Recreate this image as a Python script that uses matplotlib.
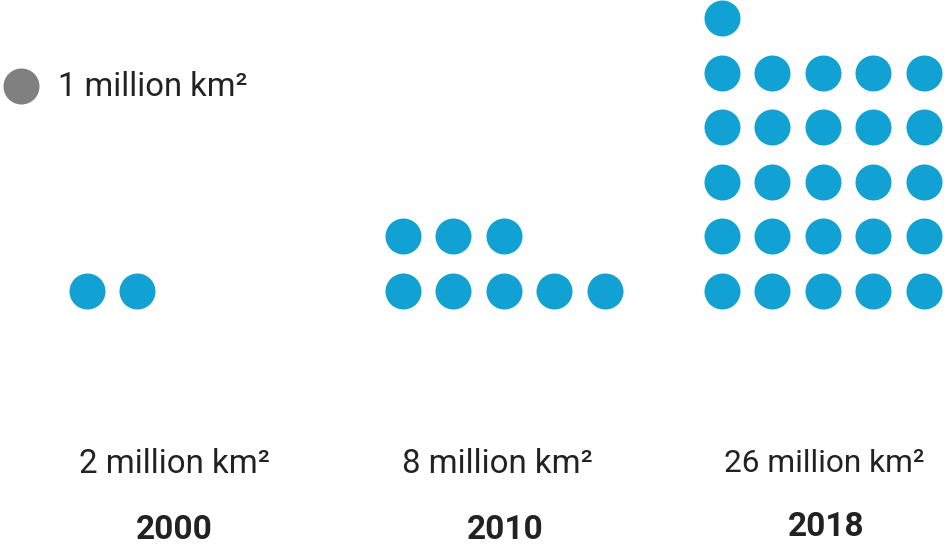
import numpy as np
import matplotlib
matplotlib.use("Agg")
import matplotlib.pyplot as plt

plt.rcParams['font.family'] = ['Roboto', 'DejaVu Sans']

# forest area per year, one dot = 1 million km²
years = ["2000", "2010", "2018"]
values = [2, 8, 26]
labels = ["2 million km²", "8 million km²", "26 million km²"]

blue = "#12a1d3"
grey = "#808080"
text_c = "#222222"

W, H = 945, 547
fig = plt.figure(figsize=(W / 100, H / 100), dpi=100)
ax = fig.add_axes([0, 0, 1, 1])
ax.set_xlim(0, W)
ax.set_ylim(H, 0)
ax.axis("off")

# grid layout (pixels)
group_x0 = [87, 403, 722]
base_y = 291
dx, dy = 50.4, 54.6
ncols = 5
dot_s = (36 * 0.72) ** 2

for x0, v in zip(group_x0, values):
    idx = np.arange(v)
    xs = x0 + (idx % ncols) * dx
    ys = base_y - (idx // ncols) * dy
    ax.scatter(xs, ys, s=dot_s, color=blue, linewidths=0)

label_x = [174, 497, 824]
label_fs = [23.8, 23.8, 22.8]
year_x = [174, 505, 826]
year_y = [530, 530, 527]
for lx, fs, yx, yy, lab, yr in zip(label_x, label_fs, year_x, year_y, labels, years):
    ax.text(lx, 464, lab, ha="center", va="center", fontsize=fs, color=text_c)
    ax.text(yx, yy, yr, ha="center", va="center", fontsize=24,
            fontweight="bold", color=text_c)

# key
ax.scatter([21], [86], s=dot_s, color=grey, linewidths=0)
ax.text(58, 87, "1 million km²", ha="left", va="center", fontsize=23.6, color=text_c)

fig.savefig("out.png", dpi=100)
